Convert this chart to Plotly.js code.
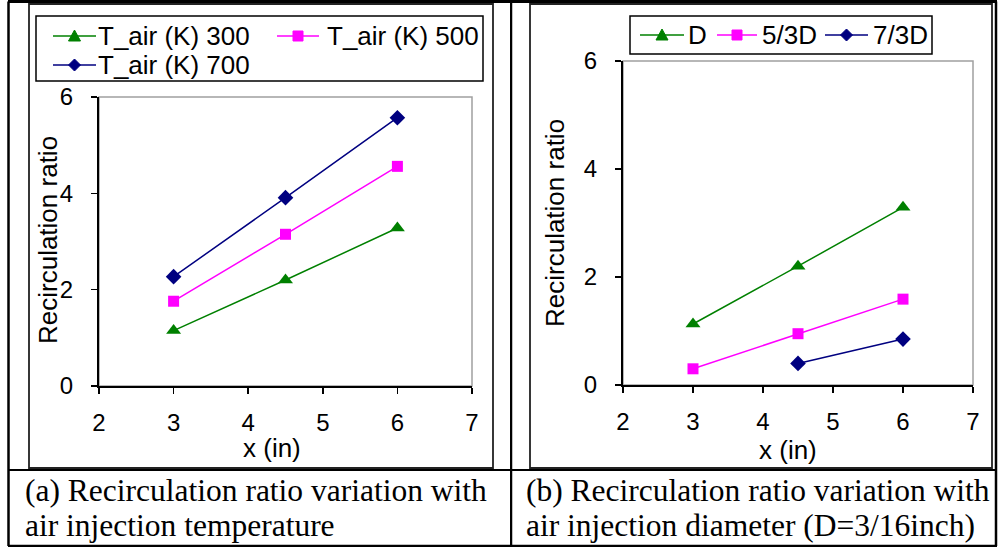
<!DOCTYPE html>
<html>
<head>
<meta charset="utf-8">
<script src="https://cdn.plot.ly/plotly-3.0.1.min.js"></script>
<style>
  html, body { margin: 0; padding: 0; background: #fff; }
  #wrap { position: relative; width: 1000px; height: 547px; overflow: hidden; background: #fff; }
  #left { position: absolute; left: 0; top: 0; width: 510px; height: 547px; }
  #right { position: absolute; left: 510px; top: 0; width: 490px; height: 547px; }
</style>
</head>
<body>
<div id="wrap"><div id="left"></div><div id="right"></div></div>
<script>
// Axial positions (in)
const xPos = [3, 4.5, 6];
const xPosLarge = [4.5, 6];

// (a) recirculation ratio by air injection temperature
const tempNames = ['T_air (K) 300', 'T_air (K) 500', 'T_air (K) 700'];
const tair300 = [1.15, 2.2, 3.28];
const tair500 = [1.76, 3.15, 4.56];
const tair700 = [2.27, 3.91, 5.57];

// (b) recirculation ratio by air injection diameter
const diamNames = ['D', '5/3D', '7/3D'];
const diamD = [1.13, 2.2, 3.29];
const diam53 = [0.30, 0.95, 1.59];
const diam73 = [0.40, 0.85];

const xTicks = [2, 3, 4, 5, 6, 7];
const yTicks = [0, 2, 4, 6];

const captionA = ['(a) Recirculation ratio variation with', 'air injection temperature'];
const captionB = ['(b) Recirculation ratio variation with', 'air injection diameter (D=3/16inch)'];
const xTitle = 'x (in)';
const yTitle = 'Recirculation ratio';

const SANS = 'Liberation Sans, Arial, sans-serif';
const SERIF = 'Liberation Serif, Times New Roman, serif';
const GREEN = '#008000', MAGENTA = '#FF00FF', NAVY = '#000080';

function styleTrace(color, symbol, size) {
  return {
    mode: 'lines+markers',
    line: { color: color, width: 1.5 },
    marker: { color: color, symbol: symbol, size: size },
    cliponaxis: false, showlegend: false
  };
}

function axisStyle(range, ticks, standoff) {
  return {
    range: range, tickvals: ticks, ticktext: ticks.map(String),
    showgrid: false, zeroline: false,
    showline: true, linecolor: '#000', linewidth: 2,
    ticks: 'outside', ticklen: 6, tickwidth: 1.5, tickcolor: '#000',
    ticklabelstandoff: standoff,
    tickfont: { family: SANS, size: 24, color: '#000' },
    fixedrange: true
  };
}

// Build one table cell: chart, frame, key, cell borders and caption.
function buildPanel(cfg) {
  const W = cfg.W, H = 547, m = cfg.margin;
  const w = W - m.l - m.r, h = H - m.t - m.b;
  const px = x => (x - m.l) / w;
  const py = y => (H - m.b - y) / h;

  const line = (x0, y0, x1, y1, width, color) => ({
    type: 'line', xref: 'paper', yref: 'paper',
    x0: px(x0), y0: py(y0), x1: px(x1), y1: py(y1),
    line: { color: color || '#000', width: width }
  });
  const rect = (x0, y0, x1, y1, width, color) => ({
    type: 'rect', xref: 'paper', yref: 'paper',
    x0: px(x0), y0: py(y1), x1: px(x1), y1: py(y0),
    line: { color: color, width: width }
  });
  const poly = (pts, color) => ({
    type: 'path', xref: 'paper', yref: 'paper',
    path: pts.map((p, i) => (i ? 'L' : 'M') + px(p[0]) + ',' + py(p[1])).join(' ') + ' Z',
    fillcolor: color, line: { color: color, width: 1 }
  });
  const symbolPts = (sym, cx, cy) => {
    if (sym === 'triangle-up') return [[cx - 6, cy + 5], [cx + 6, cy + 5], [cx, cy - 6]];
    if (sym === 'square') return [[cx - 5, cy - 5], [cx + 5, cy - 5], [cx + 5, cy + 5], [cx - 5, cy + 5]];
    return [[cx, cy - 6], [cx + 6, cy], [cx, cy + 6], [cx - 6, cy]];
  };

  const shapes = [
    // plot area outline (grey), axes drawn on top in black
    { type: 'rect', xref: 'paper', yref: 'paper', x0: 0, y0: 0, x1: 1, y1: 1,
      line: { color: '#a0a0a0', width: 1.5 }, layer: 'below' },
    rect(cfg.frame[0], cfg.frame[1], cfg.frame[2], cfg.frame[3], 1.8, '#222'),
    rect(cfg.key.box[0], cfg.key.box[1], cfg.key.box[2], cfg.key.box[3], 1.5, '#000')
  ].concat(cfg.borders.map(b => line(b[0], b[1], b[2], b[3], b[4])));

  const annotations = [
    { xref: 'paper', yref: 'paper', x: px(cfg.xt[0]), y: py(cfg.xt[1]),
      xanchor: 'center', yanchor: 'middle', showarrow: false,
      text: xTitle, font: { family: SANS, size: 26, color: '#000' } },
    { xref: 'paper', yref: 'paper', x: px(cfg.yt[0]), y: py(cfg.yt[1]),
      xanchor: 'center', yanchor: 'middle', showarrow: false, textangle: -90,
      text: yTitle, font: { family: SANS, size: 26, color: '#000' } }
  ];

  cfg.caption.lines.forEach((txt, i) => {
    annotations.push({
      xref: 'paper', yref: 'paper', x: px(cfg.caption.x), y: py(cfg.caption.y[i]),
      xanchor: 'left', yanchor: 'top', align: 'left', showarrow: false,
      text: txt, font: { family: SERIF, size: 31.5, color: '#000' }
    });
  });

  // key entries: sample line, symbol and series name
  cfg.traces.forEach((tr, i) => {
    const k = cfg.key.items[i];
    shapes.push(line(k[0], k[2], k[1], k[2], 1.5, tr.line.color));
    shapes.push(poly(symbolPts(tr.marker.symbol, (k[0] + k[1]) / 2, k[2]), tr.marker.color));
    annotations.push({
      xref: 'paper', yref: 'paper', x: px(k[3]), y: py(k[2]),
      xanchor: 'left', yanchor: 'middle', showarrow: false,
      text: tr.name, font: { family: SANS, size: 26, color: '#000' }
    });
  });

  const layout = {
    width: W, height: H,
    margin: { l: m.l, r: m.r, t: m.t, b: m.b, pad: 0 },
    paper_bgcolor: '#fff', plot_bgcolor: '#fff',
    showlegend: false,
    xaxis: axisStyle([2, 7], xTicks, 8),
    yaxis: axisStyle([0, 6], yTicks, 13),
    shapes: shapes, annotations: annotations
  };

  Plotly.newPlot(cfg.id, cfg.traces, layout, { staticPlot: true, displayModeBar: false });
}

buildPanel({
  id: 'left', W: 510,
  margin: { l: 99, r: 38, t: 97, b: 161 },
  frame: [29, 4, 493, 468],
  borders: [
    [8.5, 1.5, 8.5, 546, 2.5],
    [8, 1.5, 510, 1.5, 3],
    [8, 546, 510, 546, 2.5],
    [8, 470, 510, 470, 2]
  ],
  caption: { x: 23, y: [471, 506], lines: captionA },
  xt: [272, 448], yt: [48, 240],
  // key: box, then per series [line x0, line x1, centre y, text x]
  key: {
    box: [36, 16, 483, 81],
    items: [[53, 96, 36, 96], [277, 319, 36, 325], [53, 96, 65, 96]]
  },
  traces: [
    Object.assign({ x: xPos, y: tair300, name: tempNames[0] }, styleTrace(GREEN, 'triangle-up', 13)),
    Object.assign({ x: xPos, y: tair500, name: tempNames[1] }, styleTrace(MAGENTA, 'square', 11)),
    Object.assign({ x: xPos, y: tair700, name: tempNames[2] }, styleTrace(NAVY, 'diamond', 12))
  ]
});

buildPanel({
  id: 'right', W: 490,
  margin: { l: 113, r: 27, t: 61, b: 162 },
  frame: [20, 4, 482, 468],
  borders: [
    [1, 1.5, 1, 546, 2.5],
    [0, 1.5, 487, 1.5, 3],
    [0, 546, 487, 546, 2.5],
    [0, 470, 487, 470, 2],
    [486, 1.5, 486, 546, 2.5]
  ],
  caption: { x: 14, y: [471, 506], lines: captionB },
  xt: [278, 450], yt: [45, 223],
  key: {
    box: [120, 16, 422, 54],
    items: [[130, 174, 35, 176], [207, 247, 35, 250], [315, 358, 35, 361]]
  },
  traces: [
    Object.assign({ x: xPos, y: diamD, name: diamNames[0] }, styleTrace(GREEN, 'triangle-up', 13)),
    Object.assign({ x: xPos, y: diam53, name: diamNames[1] }, styleTrace(MAGENTA, 'square', 11)),
    Object.assign({ x: xPosLarge, y: diam73, name: diamNames[2] }, styleTrace(NAVY, 'diamond', 12))
  ]
});
</script>
</body>
</html>
